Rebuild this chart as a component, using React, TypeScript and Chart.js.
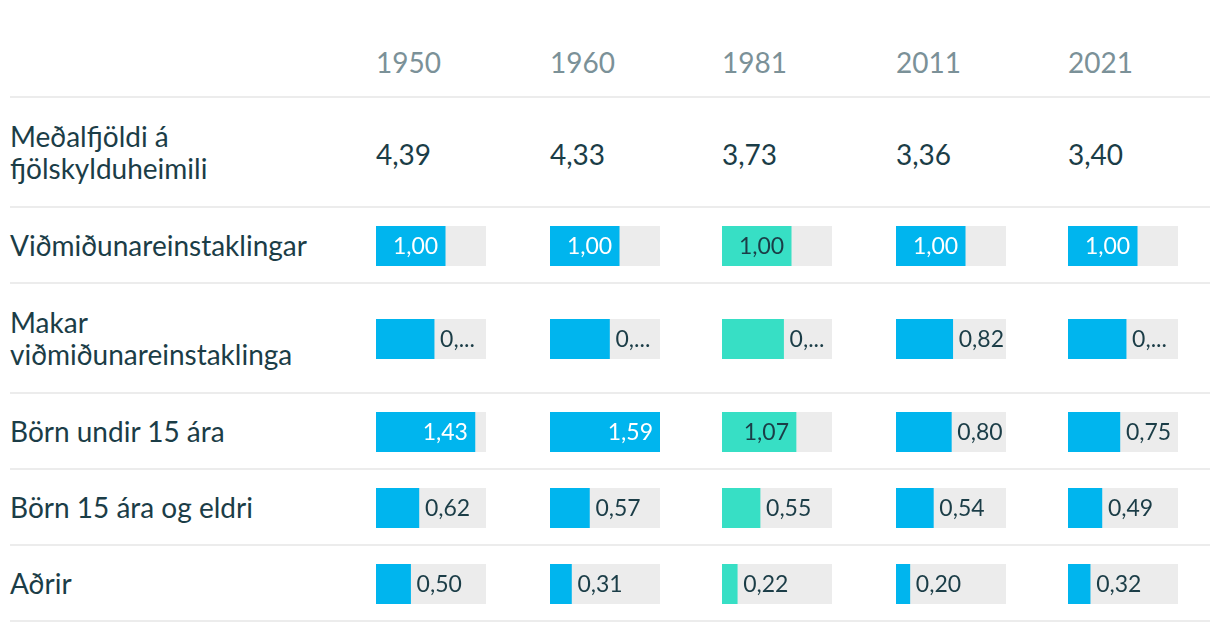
import React, { useEffect, useRef } from "react";
import { Chart, registerables } from "chart.js";

Chart.register(...registerables);

// ---- data ----
const years = ["1950", "1960", "1981", "2011", "2021"];
const highlightYear = "1981";
const averageLabel = ["Meðalfjöldi á", "fjölskylduheimili"];
const averageValues = [4.39, 4.33, 3.73, 3.36, 3.4];
const rowLabels = [
  ["Viðmiðunareinstaklingar"],
  ["Makar", "viðmiðunareinstaklinga"],
  ["Börn undir 15 ára"],
  ["Börn 15 ára og eldri"],
  ["Aðrir"],
];
const referenceValues = [1.0, 1.0, 1.0, 1.0, 1.0];
const spouseValues = [0.84, 0.86, 0.89, 0.82, 0.84];
const childrenUnder15 = [1.43, 1.59, 1.07, 0.8, 0.75];
const children15Plus = [0.62, 0.57, 0.55, 0.54, 0.49];
const otherValues = [0.5, 0.31, 0.22, 0.2, 0.32];

const seriesRows = [referenceValues, spouseValues, childrenUnder15, children15Plus, otherValues];
const maxValue = Math.max(...seriesRows.flat());

// ---- style ----
const FONT = "Lato, 'Open Sans', sans-serif";
const TEXT = "#1b3d47";
const YEAR_COLOR = "#7b9198";
const BLUE = "#00b5ee";
const TEAL = "#37dfc5";
const TRACK = "#ececec";
const LINE = "#ececec";
const colWidths = [366, 174, 172, 174, 172, 142];
const BAR_W = 110;
const BAR_H = 40;

const fmt = (v: number) => v.toFixed(2).replace(".", ",");

const labelPlugin = {
  id: "cellLabel",
  afterDatasetsDraw(chart: any) {
    const ctx = chart.ctx as CanvasRenderingContext2D;
    const bar = chart.getDatasetMeta(0).data[0];
    const value = chart.data.datasets[0].data[0] as number;
    const teal = chart.options.plugins.cellLabel.teal;
    const area = chart.chartArea;
    let text = fmt(value);
    ctx.save();
    ctx.font = "23px " + FONT;
    ctx.textBaseline = "middle";
    const y = bar.y + 1;
    if (value / maxValue >= 0.6) {
      ctx.textAlign = "right";
      ctx.fillStyle = teal ? TEXT : "#ffffff";
      ctx.fillText(text, bar.x - 7, y);
    } else {
      const padL = 6;
      const padR = 2;
      const avail = area.right - bar.x;
      if (padL + ctx.measureText(text).width + padR > avail) {
        let t = text;
        while (t.length > 1 && padL + ctx.measureText(t + "...").width + padR > avail) t = t.slice(0, -1);
        text = t + "...";
      }
      ctx.textAlign = "left";
      ctx.fillStyle = TEXT;
      ctx.fillText(text, bar.x + padL, y);
    }
    ctx.restore();
  },
};

function BarCell({ value, teal }: { value: number; teal: boolean }) {
  const ref = useRef<HTMLCanvasElement>(null);
  useEffect(() => {
    const chart = new Chart(ref.current!, {
      type: "bar",
      data: {
        labels: [""],
        datasets: [
          { data: [value], backgroundColor: teal ? TEAL : BLUE, grouped: false, borderWidth: 0 } as any,
          { data: [maxValue], backgroundColor: TRACK, grouped: false, borderWidth: 0 } as any,
        ],
      },
      options: {
        indexAxis: "y",
        animation: false,
        responsive: false,
        events: [],
        layout: { padding: 0 },
        datasets: { bar: { barPercentage: 1, categoryPercentage: 1 } },
        scales: {
          x: { display: false, min: 0, max: maxValue },
          y: { display: false },
        },
        plugins: {
          legend: { display: false },
          tooltip: { enabled: false },
          cellLabel: { teal },
        } as any,
      },
      plugins: [labelPlugin],
    });
    return () => chart.destroy();
  }, [value, teal]);
  return <canvas ref={ref} width={BAR_W} height={BAR_H} style={{ display: "block", width: BAR_W, height: BAR_H }} />;
}

function Row({ height, children, align = "center", padBottom = 0 }: any) {
  return (
    <div
      style={{
        display: "flex",
        height,
        alignItems: align,
        borderBottom: `2px solid ${LINE}`,
        paddingBottom: padBottom,
        boxSizing: "content-box",
      }}
    >
      {children}
    </div>
  );
}

export default function App() {
  return (
    <div style={{ width: 1200, marginLeft: 2, fontFamily: FONT, color: TEXT }}>
      <Row height={88 - 19} align="flex-end" padBottom={19}>
        <div style={{ width: colWidths[0] }} />
        {years.map((y, i) => (
          <div key={y} style={{ width: colWidths[i + 1], fontSize: 28, lineHeight: "30px", color: YEAR_COLOR }}>
            {y}
          </div>
        ))}
      </Row>
      <Row height={108}>
        <div style={{ width: colWidths[0], fontSize: 28, lineHeight: "32px" }}>
          {averageLabel.map((l) => (
            <div key={l}>{l}</div>
          ))}
        </div>
        {averageValues.map((v, i) => (
          <div key={i} style={{ width: colWidths[i + 1], fontSize: 28, lineHeight: "32px", paddingTop: 4 }}>
            {fmt(v)}
          </div>
        ))}
      </Row>
      {seriesRows.map((vals, r) => (
        <Row key={r} height={rowLabels[r].length > 1 ? 108 : 74}>
          <div style={{ width: colWidths[0], fontSize: 28, lineHeight: "32px" }}>
            {rowLabels[r].map((l) => (
              <div key={l}>{l}</div>
            ))}
          </div>
          {vals.map((v, i) => (
            <div key={i} style={{ width: colWidths[i + 1], paddingTop: 2 }}>
              <BarCell value={v} teal={years[i] === highlightYear} />
            </div>
          ))}
        </Row>
      ))}
    </div>
  );
}
